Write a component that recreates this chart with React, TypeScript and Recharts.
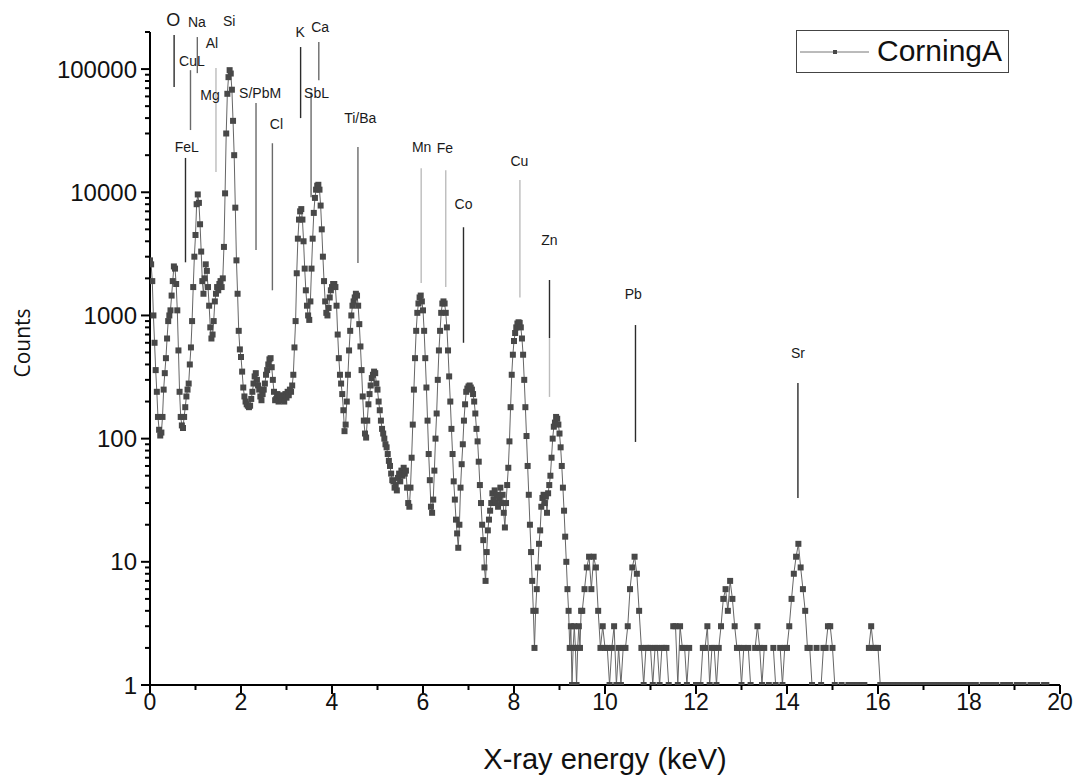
import { LineChart, Line, XAxis, YAxis, Legend, ReferenceLine, ReferenceDot } from 'recharts';

// Channel widths (keV) of the two parts of the spectrum
const FINE_STEP = 0.025;
const COARSE_STEP = 0.05;

// Counts per channel, 0.000 – 0.975 keV
const counts0to1 = [
  2800, 2600, 1900, 1000, 600, 360, 240, 150, 118, 106,
  112, 150, 250, 340, 450, 650, 900, 1000, 1100, 1450,
  1900, 2500, 2400, 1800, 1100, 520, 240, 150, 128, 122,
  150, 180, 220, 250, 280, 400, 550, 900, 1700, 3000,
];
// 1.000 – 1.975 keV (Na, Mg, Al, Si)
const counts1to2 = [
  4500, 8000, 9600, 8200, 5500, 3300, 1900, 1500, 2000, 2600,
  2300, 1700, 1200, 800, 650, 700, 900, 1300, 1500, 1700,
  1600, 1800, 1900, 1700, 2000, 3600, 9800, 30000, 63000, 86000,
  98000, 92000, 68000, 38000, 20000, 7500, 2800, 1500, 750, 530,
];
// 2.000 – 2.975 keV (S, Cl)
const counts2to3 = [
  460, 350, 260, 220, 200, 190, 185, 180, 185, 210,
  240, 280, 320, 340, 300, 270, 250, 220, 205, 230,
  250, 280, 330, 360, 400, 440, 450, 380, 300, 240,
  205, 210, 230, 200, 215, 225, 205, 220, 200, 230,
];
// 3.000 – 3.975 keV (K, Ca)
const counts3to4 = [
  215, 240, 225, 250, 240, 270, 330, 550, 900, 2200,
  4200, 6000, 7000, 7300, 6000, 4000, 2400, 1600, 1200, 1000,
  920, 1300, 2400, 4200, 6800, 9000, 10500, 11300, 11500, 10500,
  7800, 5000, 3000, 1900, 1300, 1050, 1000, 1150, 1400, 1600,
];
// 4.000 – 4.975 keV (Ca Kβ, Ti)
const counts4to5 = [
  1700, 1800, 1800, 1700, 1200, 700, 450, 330, 280, 230,
  170, 115, 130, 200, 330, 520, 750, 1000, 1200, 1300,
  1400, 1500, 1450, 1200, 850, 560, 360, 220, 140, 110,
  102, 140, 190, 230, 270, 310, 330, 350, 340, 280,
];
// 5.000 – 5.975 keV (Mn)
const counts5to6 = [
  250, 200, 170, 140, 120, 110, 100, 90, 85, 75,
  66, 60, 52, 46, 45, 40, 42, 38, 48, 52,
  45, 55, 50, 58, 52, 55, 40, 30, 28, 40,
  70, 130, 250, 450, 750, 1050, 1250, 1400, 1450, 1300,
];
// 6.000 – 6.975 keV (Fe, Co)
const counts6to7 = [
  1100, 750, 450, 260, 140, 75, 46, 28, 25, 32,
  55, 100, 160, 300, 520, 750, 1050, 1250, 1300, 1250,
  1050, 800, 520, 320, 200, 120, 75, 45, 32, 22,
  17, 13, 20, 40, 62, 90, 140, 190, 240, 255,
];
// 7.000 – 7.975 keV
const counts7to8 = [
  265, 270, 260, 250, 230, 200, 160, 120, 95, 65,
  42, 30, 20, 15, 9, 7, 12, 18, 22, 26,
  30, 36, 32, 38, 30, 35, 28, 33, 40, 30,
  35, 25, 19, 30, 42, 58, 95, 180, 330, 480,
];
// 8.000 – 8.975 keV (Cu)
const counts8to9 = [
  620, 720, 800, 860, 880, 870, 800, 650, 480, 300,
  180, 105, 60, 35, 20, 12, 7, 4, 2, 4,
  6, 9, 14, 18, 28, 33, 35, 30, 34, 25,
  36, 42, 50, 70, 100, 125, 135, 150, 145, 130,
];
// 9.000 – 9.475 keV
const counts9to9p5 = [
  110, 85, 60, 40, 26, 16, 10, 6, 4, 2,
  3, 1, 2, 3, 2, 1, 2, 3, 2, 4,
];
// 9.50 – 11.95 keV, coarse channels (null = empty channel)
const counts9p5to12 = [
  4, 6, 9, 11, 6, 11, 9, 4, 2, 3,
  2, 2, 1, 2, 3, 1, 2, 1, 2, 2,
  3, 6, 9, 11, 8, 4, 2, 1, 2, 2,
  2, 1, 2, 2, 1, 2, 2, 2, 1, null,
  3, 3, 1, 3, 2, 2, 1, 2, null, null,
];
// 12.00 – 15.95 keV (Sr)
const counts12to16 = [
  1, null, 1, 2, 2, 3, 1, 2, 2, 1,
  2, 3, 5, 6, 4, 7, 5, 3, 2, 2,
  1, 2, null, 2, 1, null, 2, 3, 2, 1,
  2, null, 1, null, 2, 1, null, 2, 1, 2,
  2, 3, 5, 8, 11, 14, 9, 6, 4, 2,
  2, 1, null, 2, null, 1, 2, 2, 3, 3,
  2, 1, null, null, 1, null, null, 1, 1, null,
  1, 1, null, 1, 1, null, 2, 3, 2, 2,
];
// 16.00 – 19.95 keV
const counts16to20 = [
  2, 1, 1, null, 1, 1, null, 1, null, 1,
  1, 1, null, 1, null, 1, 1, null, 1, 1,
  null, 1, 1, 1, null, 1, null, 1, 1, null,
  1, null, 1, 1, null, 1, 1, null, 1, null,
  1, 1, null, 1, null, null, 1, 1, null, 1,
  null, 1, 1, null, null, 1, 1, null, 1, null,
  null, 1, 1, null, 1, null, null, 1, 1, null,
  1, null, null, 1, 1, null, null, null, null, null,
];

const segments = [
  { start: 0, step: FINE_STEP, counts: counts0to1 },
  { start: 1, step: FINE_STEP, counts: counts1to2 },
  { start: 2, step: FINE_STEP, counts: counts2to3 },
  { start: 3, step: FINE_STEP, counts: counts3to4 },
  { start: 4, step: FINE_STEP, counts: counts4to5 },
  { start: 5, step: FINE_STEP, counts: counts5to6 },
  { start: 6, step: FINE_STEP, counts: counts6to7 },
  { start: 7, step: FINE_STEP, counts: counts7to8 },
  { start: 8, step: FINE_STEP, counts: counts8to9 },
  { start: 9, step: FINE_STEP, counts: counts9to9p5 },
  { start: 9.5, step: COARSE_STEP, counts: counts9p5to12 },
  { start: 12, step: COARSE_STEP, counts: counts12to16 },
  { start: 16, step: COARSE_STEP, counts: counts16to20 },
];

const spectrum = segments.flatMap(({ start, step, counts }) =>
  counts.map((c, i) => ({ energy: Math.round((start + i * step) * 1000) / 1000, counts: c }))
);

const energyTicks = [0, 1, 2, 3, 4, 5, 6, 7, 8, 9, 10, 11, 12, 13, 14, 15, 16, 17, 18, 19, 20];
const countDecades = [1, 10, 100, 1000, 10000, 100000];
const decadeSteps = [1, 2, 3, 4, 5, 6, 7, 8, 9];
const COUNT_MAX = 200000;
const countTicks = countDecades
  .flatMap(d => decadeSteps.map(m => m * d))
  .filter(v => v <= COUNT_MAX);

// Element line markers: energy (keV) and vertical extent in counts
const elementLines = [
  { name: 'O', energy: 0.53, top: 189000, bottom: 71400, shade: 'dark' },
  { name: 'Na', energy: 1.04, top: 182000, bottom: 92700, shade: 'mid' },
  { name: 'CuL', energy: 0.89, top: 98000, bottom: 32000, shade: 'mid' },
  { name: 'Al', energy: 1.45, top: 102000, bottom: 14600, shade: 'light' },
  { name: 'FeL', energy: 0.78, top: 19000, bottom: 2700, shade: 'dark' },
  { name: 'S/PbM', energy: 2.33, top: 53000, bottom: 3400, shade: 'mid' },
  { name: 'Cl', energy: 2.69, top: 25000, bottom: 1600, shade: 'mid' },
  { name: 'K', energy: 3.31, top: 151000, bottom: 40000, shade: 'dark' },
  { name: 'Ca', energy: 3.71, top: 166000, bottom: 81000, shade: 'mid' },
  { name: 'SbL', energy: 3.54, top: 65000, bottom: 9100, shade: 'mid' },
  { name: 'Ti/Ba', energy: 4.57, top: 23300, bottom: 2660, shade: 'mid' },
  { name: 'Mn', energy: 5.96, top: 15700, bottom: 1830, shade: 'light' },
  { name: 'Fe', energy: 6.5, top: 15100, bottom: 1700, shade: 'light' },
  { name: 'Co', energy: 6.89, top: 5200, bottom: 600, shade: 'dark' },
  { name: 'Cu', energy: 8.13, top: 12600, bottom: 1400, shade: 'light' },
  { name: 'Zn', energy: 8.78, top: 1940, bottom: 655, shade: 'dark' },
  { name: 'Zn', energy: 8.78, top: 655, bottom: 218, shade: 'light' },
  { name: 'Pb', energy: 10.67, top: 836, bottom: 94, shade: 'dark' },
  { name: 'Sr', energy: 14.24, top: 283, bottom: 33, shade: 'dark' },
];

// Element names, placed in data units (keV, counts)
const elementTags = [
  { name: 'O', energy: 0.51, counts: 250000 },
  { name: 'Na', energy: 1.03, counts: 240000 },
  { name: 'Si', energy: 1.74, counts: 245000 },
  { name: 'Al', energy: 1.36, counts: 162000 },
  { name: 'CuL', energy: 0.92, counts: 117000 },
  { name: 'Mg', energy: 1.32, counts: 62000 },
  { name: 'FeL', energy: 0.81, counts: 23400 },
  { name: 'S/PbM', energy: 2.42, counts: 64000 },
  { name: 'Cl', energy: 2.78, counts: 36000 },
  { name: 'K', energy: 3.3, counts: 200000 },
  { name: 'Ca', energy: 3.74, counts: 219000 },
  { name: 'SbL', energy: 3.66, counts: 64500 },
  { name: 'Ti/Ba', energy: 4.62, counts: 40000 },
  { name: 'Mn', energy: 5.97, counts: 23400 },
  { name: 'Fe', energy: 6.48, counts: 22900 },
  { name: 'Cu', energy: 8.12, counts: 17800 },
  { name: 'Co', energy: 6.89, counts: 8100 },
  { name: 'Zn', energy: 8.78, counts: 4100 },
  { name: 'Pb', energy: 10.62, counts: 1500 },
  { name: 'Sr', energy: 14.24, counts: 500 },
];

const SHADES: Record<string, string> = { dark: '#2b2b2b', mid: '#6a6a6a', light: '#bcbcbc' };
const FONT = '"Liberation Sans", Arial, sans-serif';
const MARKER = '#484848';

function EnergyTick({ x, y, payload }: any) {
  const major = payload.value % 2 === 0;
  return (
    <g>
      <line x1={x} y1={y} x2={x} y2={y + (major ? 9 : 5)} stroke="#000" strokeWidth={2} />
      {major && (
        <text x={x} y={y + 25} textAnchor="middle" fontSize={23} fontFamily={FONT} fill="#111">
          {payload.value}
        </text>
      )}
    </g>
  );
}

function CountsTick({ x, y, payload }: any) {
  const major = /^10*$/.test(String(payload.value));
  return (
    <g>
      <line x1={x - (major ? 9 : 5)} y1={y} x2={x} y2={y} stroke="#000" strokeWidth={2} />
      {major && (
        <text x={x - 13} y={y} textAnchor="end" dominantBaseline="central" fontSize={24} fontFamily={FONT} fill="#111">
          {payload.value}
        </text>
      )}
    </g>
  );
}

function SquareDot({ cx, cy, index }: any) {
  if (cx == null || cy == null) return <g key={`d${index}`} />;
  return <rect key={`d${index}`} x={cx - 3} y={cy - 3} width={6} height={6} fill={MARKER} />;
}

function SeriesLegend() {
  return (
    <div
      style={{
        width: 213,
        height: 43,
        boxSizing: 'border-box',
        border: '1px solid #444',
        background: '#fff',
        display: 'flex',
        alignItems: 'center',
      }}
    >
      <svg width={80} height={41}>
        <line x1={3} y1={21} x2={72} y2={21} stroke="#777" strokeWidth={1} />
        <rect x={36} y={19} width={4} height={4} fill={MARKER} />
      </svg>
      <span style={{ fontFamily: FONT, fontSize: 30, color: '#111', marginLeft: 0, marginTop: -2 }}>CorningA</span>
    </div>
  );
}

export default function App() {
  return (
    <div style={{ position: 'absolute', left: 0, top: 0, background: '#fff' }}>
      <LineChart width={1076} height={778} data={spectrum} margin={{ top: 32, right: 16, bottom: 0, left: 0 }}>
        <XAxis
          type="number"
          dataKey="energy"
          domain={[0, 20]}
          ticks={energyTicks}
          interval={0}
          allowDataOverflow
          height={93}
          tickSize={0}
          tickMargin={0}
          tickLine={false}
          tick={<EnergyTick />}
          axisLine={{ stroke: '#000', strokeWidth: 2 }}
          label={{
            value: 'X-ray energy (keV)',
            position: 'insideBottom',
            offset: 9,
            fontSize: 29,
            fontFamily: FONT,
            fill: '#111',
          }}
        />
        <YAxis
          type="number"
          scale="log"
          domain={[1, COUNT_MAX]}
          ticks={countTicks}
          interval={0}
          allowDataOverflow
          width={150}
          tickSize={0}
          tickMargin={0}
          tickLine={false}
          tick={<CountsTick />}
          axisLine={{ stroke: '#000', strokeWidth: 2 }}
          label={{
            content: () => (
              <text
                x={22}
                y={343}
                transform="rotate(-90, 22, 343)"
                textAnchor="middle"
                dominantBaseline="central"
                fontSize={21}
                fontFamily='"Open Sans", sans-serif'
                fill="#111"
              >
                Counts
              </text>
            ),
          }}
        />
        <Legend
          layout="horizontal"
          align="center"
          verticalAlign="middle"
          wrapperStyle={{ top: 30, left: 796, width: 213, height: 43 }}
          content={() => <SeriesLegend />}
        />
        {elementLines.map((m, i) => (
          <ReferenceLine
            key={`line-${i}`}
            segment={[{ x: m.energy, y: m.top }, { x: m.energy, y: m.bottom }]}
            stroke={SHADES[m.shade]}
            strokeWidth={1.4}
            ifOverflow="visible"
          />
        ))}
        {elementTags.map(t => (
          <ReferenceDot
            key={`tag-${t.name}`}
            x={t.energy}
            y={t.counts}
            r={0}
            fill="none"
            stroke="none"
            ifOverflow="visible"
            label={{
              value: t.name,
              position: 'center',
              fontSize: t.name === 'O' ? 18 : 14,
              fontFamily: FONT,
              fill: '#1a1a1a',
            }}
          />
        ))}
        <Line
          type="linear"
          dataKey="counts"
          name="CorningA"
          stroke="#666"
          strokeWidth={1}
          dot={SquareDot}
          activeDot={false}
          connectNulls={false}
          isAnimationActive={false}
        />
      </LineChart>
    </div>
  );
}
